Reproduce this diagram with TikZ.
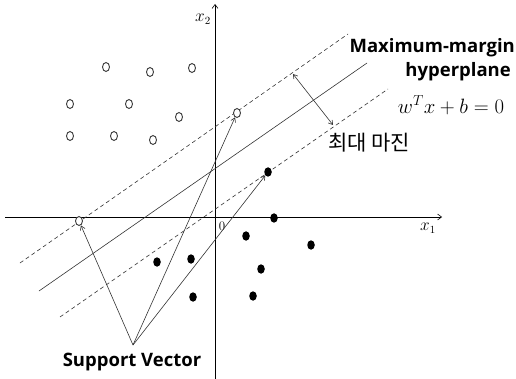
\documentclass[tikz,border=0pt]{standalone}
\usepackage{fontspec}
\setsansfont{Open Sans}
\newfontfamily\korfont{Noto Sans CJK KR}
\usetikzlibrary{arrows.meta,shapes.geometric}
\definecolor{Ink}{HTML}{333333}

\begin{document}
\begin{tikzpicture}[x=1pt,y=-1pt,
    hollowpt/.style={ellipse,draw=Ink,line width=0.9pt,fill=white,minimum width=7pt,minimum height=9pt,inner sep=0pt},
    fullpt/.style={ellipse,fill=black,minimum width=7.5pt,minimum height=9.5pt,inner sep=0pt},
    txt/.style={font=\sffamily\bfseries\fontsize{18.5}{21}\selectfont},
    axis/.style={black,semithick,-{Straight Barb[length=4pt,width=6pt]}},
    marginline/.style={Ink,line width=0.6pt,dash pattern=on 4pt off 3pt},
    vec/.style={Ink,line width=0.6pt,-{Straight Barb[length=4pt,width=5pt]}}]
  \useasboundingbox (0,0) rectangle (516,379);
  % axes
  \coordinate (xs) at (5,217);
  \coordinate (xe) at (442,217);
  \coordinate (ys) at (215,379);
  \coordinate (ye) at (215,4);
  \draw[axis] (xs) -- (xe);
  \draw[axis] (ys) -- (ye);
  \node[font=\fontsize{16}{18}\selectfont] (x1) at (428,228) {$x_1$};
  \node[font=\fontsize{16}{18}\selectfont] (x2) at (203,19) {$x_2$};
  \node[font=\fontsize{13}{15}\selectfont] (orig) at (222,226) {0};

  % hyperplane and margins
  \coordinate (h1) at (39,291);  \coordinate (h2) at (367,63);
  \coordinate (u1) at (20,263);  \coordinate (u2) at (348,34);
  \coordinate (l1) at (60,317);  \coordinate (l2) at (388,89);
  \draw[Ink,line width=0.6pt] (h1) -- (h2);
  \draw[marginline] (u1) -- (u2);
  \draw[marginline] (l1) -- (l2);
  \coordinate (mtop) at (293,74);
  \coordinate (mbot) at (333,125);
  \draw[Ink,line width=0.6pt,{Straight Barb[length=4pt,width=5pt]}-{Straight Barb[length=4pt,width=5pt]}] (mtop) -- (mbot);

  % class +1
  \node[hollowpt] (o1) at (106,67) {};
  \node[hollowpt] (o2) at (150,72) {};
  \node[hollowpt] (o3) at (192,68) {};
  \node[hollowpt] (o4) at (70,104) {};
  \node[hollowpt] (o5) at (129,104) {};
  \node[hollowpt] (o6) at (179,117) {};
  \node[hollowpt] (o7) at (70,136) {};
  \node[hollowpt] (o8) at (114,136) {};
  \node[hollowpt] (o9) at (153,140) {};
  \node[hollowpt] (sva) at (237,113) {};
  \node[hollowpt] (svb) at (79,221) {};

  % class -1
  \node[fullpt] (d1) at (157,262) {};
  \node[fullpt] (d2) at (191,259) {};
  \node[fullpt] (d3) at (193,297) {};
  \node[fullpt] (d4) at (246,236) {};
  \node[fullpt] (d5) at (274,218) {};
  \node[fullpt] (d6) at (311,245) {};
  \node[fullpt] (d7) at (261,269) {};
  \node[fullpt] (d8) at (253,296) {};
  \node[fullpt] (svc) at (268,172) {};

  % labels
  \node[txt,anchor=east,inner sep=1pt] (mm) at (516,48) {Maximum-margin};
  \node[txt,anchor=east,inner sep=1pt] (hp) at (512,72) {hyperplane};
  \node[font=\fontsize{20.5}{23}\selectfont] (eq) at (451,105) {$w^T x + b = 0$};
  \node[font=\korfont\fontsize{21}{23}\selectfont] (km) at (369,143) {최대 마진};
  \node[txt] (sv) at (132,362) {Support Vector};

  % support vectors
  \coordinate (apex) at (133,345);
  \draw[vec] (apex) -- (svb);
  \draw[vec] (apex) -- (sva);
  \draw[vec] (apex) -- (svc);
\end{tikzpicture}
\end{document}
